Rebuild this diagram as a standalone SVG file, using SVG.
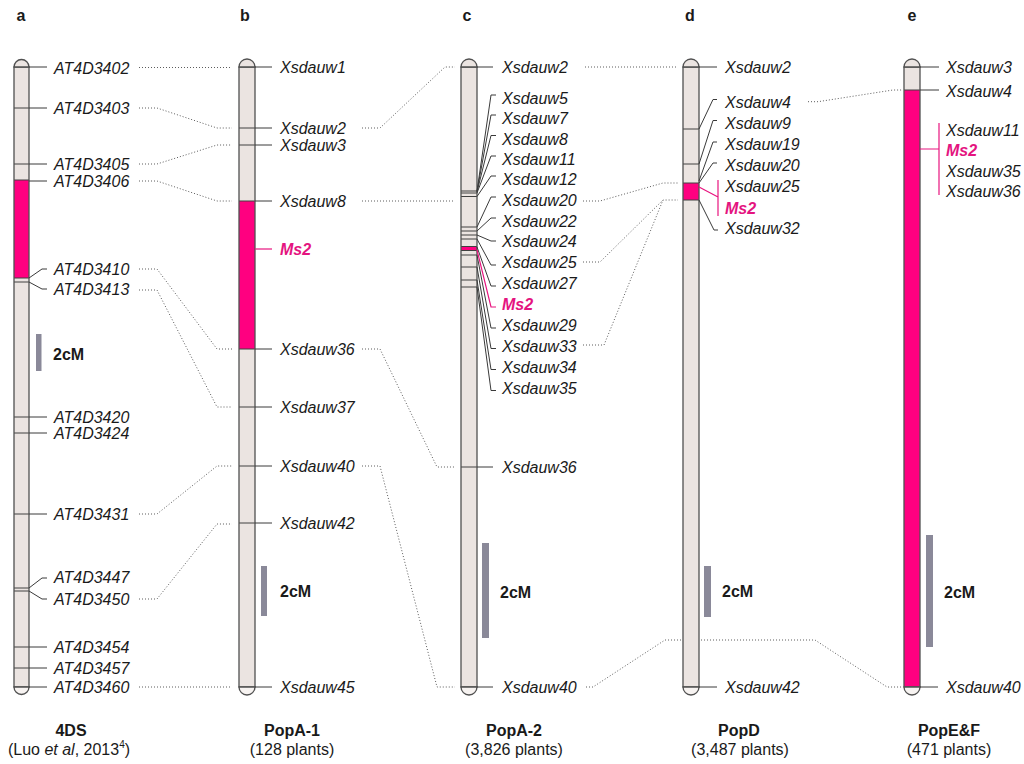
<svg xmlns="http://www.w3.org/2000/svg" width="1024" height="764" viewBox="0 0 1024 764">
<style>
.bg{fill:#ffffff}
.chr{fill:#ebe4e1}
.out{fill:none;stroke:#505050;stroke-width:1.3}
.cap{fill:#ebe4e1;stroke:#505050;stroke-width:1.3}
.capb{fill:#f7f3f1;stroke:#505050;stroke-width:1.3}
.pk{fill:#ff0080}
.bd{stroke:#404040;stroke-width:1;fill:none}
.tk{stroke:#3a3a3a;stroke-width:1;fill:none}
.pt{stroke:#e8157f;stroke-width:1.2;fill:none}
.dot{stroke:#5c5c5c;stroke-width:1;stroke-dasharray:1 2;fill:none}
.lbl{font-family:'Liberation Sans',Arial,sans-serif;font-size:16px;font-style:italic;fill:#1a1a1a}
.ms{font-family:'Liberation Sans',Arial,sans-serif;font-size:16px;font-style:italic;font-weight:bold;fill:#e4147f}
.cm{font-family:'Liberation Sans',Arial,sans-serif;font-size:16px;font-weight:bold;fill:#1a1a1a}
.ttl{font-family:'Liberation Sans',Arial,sans-serif;font-size:16px;font-weight:bold;fill:#1a1a1a;text-anchor:middle}
.sub{font-family:'Liberation Sans',Arial,sans-serif;font-size:16px;fill:#1a1a1a;text-anchor:middle}
.bar{fill:#8a8999}
</style>
<rect class="bg" x="0" y="0" width="1024" height="764"/>

<g id="connectors">
<path class="dot" d="M139,67.5 H232"/>
<path class="dot" d="M139,108 H157 L217,128 H232"/>
<path class="dot" d="M139,164 H157 L217,145 H232"/>
<path class="dot" d="M139,181 H157 L217,201 H232"/>
<path class="dot" d="M139,269 H157 L217,349 H232"/>
<path class="dot" d="M139,290 H157 L217,407 H232"/>
<path class="dot" d="M139,514 H157 L217,466 H232"/>
<path class="dot" d="M139,599 H157 L217,524 H232"/>
<path class="dot" d="M139,687 H232"/>
<path class="dot" d="M362,128 H380 L445,67 H455"/>
<path class="dot" d="M362,201 H455"/>
<path class="dot" d="M362,349 H380 L437,467 H455"/>
<path class="dot" d="M362,466 H380 L437,687 H455"/>
<path class="dot" d="M585,67 H678"/>
<path class="dot" d="M583,201 H600 L663,183 H678"/>
<path class="dot" d="M583,262 H600 L663,200 H678"/>
<path class="dot" d="M583,345 H604 L663,200"/>
<path class="dot" d="M586,687 H593 L665,640 H815 L887,687 H903"/>
<path class="dot" d="M808,101.7 H818 L893,90 H903"/>
</g>

<g id="chrom-a">
<rect class="chr" x="14" y="67" width="15" height="620"/>
<rect class="pk" x="14" y="180" width="15" height="98"/>
<path class="bd" d="M14,108H29M14,164H29M14,180H29M14,278H29M14,282H29M14,417H29M14,433H29M14,514H29M14,588H29M14,591H29M14,647H29M14,668H29"/>
<rect class="out" x="14" y="67" width="15" height="620"/>
<path class="cap" d="M14,67 A7.5,7.5 0 0 1 29,67 Z"/>
<path class="capb" d="M14,687 A7.5,7.5 0 0 0 29,687 Z"/>
<path class="tk" d="M29,67H47M29,108H47M29,164H47M29,181H47M29,278L42,269H47M29,282L42,289H47M29,417H47M29,433H47M29,514H47M29,588L42,578H47M29,591L42,599H47M29,647H47M29,668H47M29,687H47"/>
<text class="lbl" x="54" y="74">AT4D3402</text>
<text class="lbl" x="54" y="114">AT4D3403</text>
<text class="lbl" x="54" y="170">AT4D3405</text>
<text class="lbl" x="54" y="187">AT4D3406</text>
<text class="lbl" x="54" y="275">AT4D3410</text>
<text class="lbl" x="54" y="295">AT4D3413</text>
<text class="lbl" x="54" y="423">AT4D3420</text>
<text class="lbl" x="54" y="439">AT4D3424</text>
<text class="lbl" x="54" y="520">AT4D3431</text>
<text class="lbl" x="54" y="583">AT4D3447</text>
<text class="lbl" x="54" y="605">AT4D3450</text>
<text class="lbl" x="54" y="653">AT4D3454</text>
<text class="lbl" x="54" y="674">AT4D3457</text>
<text class="lbl" x="54" y="693">AT4D3460</text>
<rect class="bar" x="36" y="334" width="5.5" height="37"/>
<text class="cm" x="53" y="360">2cM</text>
</g>

<g id="chrom-b">
<rect class="chr" x="239" y="67" width="16" height="620"/>
<rect class="pk" x="239" y="201" width="16" height="148"/>
<path class="bd" d="M239,128H255M239,145H255M239,201H255M239,349H255M239,407H255M239,466H255M239,523H255"/>
<rect class="out" x="239" y="67" width="16" height="620"/>
<path class="cap" d="M239,67 A8,8 0 0 1 255,67 Z"/>
<path class="capb" d="M239,687 A8,8 0 0 0 255,687 Z"/>
<path class="tk" d="M255,67H272M255,128H272M255,145H272M255,201H272M255,349H272M255,407H272M255,466H272M255,523H272M255,687H272"/>
<path class="pt" d="M255,249H272"/>
<text class="lbl" x="280" y="73">Xsdauw1</text>
<text class="lbl" x="280" y="134">Xsdauw2</text>
<text class="lbl" x="280" y="151">Xsdauw3</text>
<text class="lbl" x="280" y="207">Xsdauw8</text>
<text class="ms" x="280" y="255">Ms2</text>
<text class="lbl" x="280" y="355">Xsdauw36</text>
<text class="lbl" x="280" y="413">Xsdauw37</text>
<text class="lbl" x="280" y="472">Xsdauw40</text>
<text class="lbl" x="280" y="529">Xsdauw42</text>
<text class="lbl" x="280" y="693">Xsdauw45</text>
<rect class="bar" x="261" y="566" width="6" height="50"/>
<text class="cm" x="280" y="597">2cM</text>
</g>

<g id="chrom-c">
<rect class="chr" x="461" y="67" width="16" height="620"/>
<rect class="pk" x="461" y="247" width="16" height="3"/>
<path class="bd" d="M461,191H477M461,193H477M461,196.5H477M461,227H477M461,231H477M461,235H477M461,239H477M461,246.5H477M461,250.5H477M461,255H477M461,267H477M461,280H477M461,287H477M461,467H477"/>
<rect class="out" x="461" y="67" width="16" height="620"/>
<path class="cap" d="M461,67 A8,8 0 0 1 477,67 Z"/>
<path class="capb" d="M461,687 A8,8 0 0 0 477,687 Z"/>
<path class="tk" d="M477,67H493M477,467H493M477,687H493"/>
<path class="tk" d="M477,191L491,95H496M477,191.5L491,115H496M477,192L491,135.5H496M477,193L491,156H496M477,196.5L491,176H496M477,227L491,197H496M477,231L491,218H496M477,235L491,241H496M477,239L491,265H496M477,247L491,286H496M477,255L491,328H496M477,267L491,348.5H496M477,280L491,369.5H496M477,287L491,390.5H496"/>
<path class="pt" d="M477,250L491,307H496"/>
<text class="lbl" x="502" y="73">Xsdauw2</text>
<text class="lbl" x="502" y="104">Xsdauw5</text>
<text class="lbl" x="502" y="124">Xsdauw7</text>
<text class="lbl" x="502" y="144.5">Xsdauw8</text>
<text class="lbl" x="502" y="165">Xsdauw11</text>
<text class="lbl" x="502" y="185">Xsdauw12</text>
<text class="lbl" x="502" y="206">Xsdauw20</text>
<text class="lbl" x="502" y="227">Xsdauw22</text>
<text class="lbl" x="502" y="247">Xsdauw24</text>
<text class="lbl" x="502" y="268">Xsdauw25</text>
<text class="lbl" x="502" y="289">Xsdauw27</text>
<text class="ms" x="502" y="310">Ms2</text>
<text class="lbl" x="502" y="331">Xsdauw29</text>
<text class="lbl" x="502" y="351.5">Xsdauw33</text>
<text class="lbl" x="502" y="372.5">Xsdauw34</text>
<text class="lbl" x="502" y="393.5">Xsdauw35</text>
<text class="lbl" x="502" y="473">Xsdauw36</text>
<text class="lbl" x="502" y="693">Xsdauw40</text>
<rect class="bar" x="482" y="543" width="7" height="95"/>
<text class="cm" x="500" y="598">2cM</text>
</g>

<g id="chrom-d">
<rect class="chr" x="683" y="67" width="16" height="620"/>
<rect class="pk" x="683" y="183" width="16" height="17"/>
<path class="bd" d="M683,129H699M683,164H699M683,183H699M683,200H699"/>
<rect class="out" x="683" y="67" width="16" height="620"/>
<path class="cap" d="M683,67 A8,8 0 0 1 699,67 Z"/>
<path class="capb" d="M683,687 A8,8 0 0 0 699,687 Z"/>
<path class="tk" d="M699,67H717M699,687H717"/>
<path class="tk" d="M699,129L713,99.5H717M699,164L713,120.5H717M699,181L713,142H717M699,183L713,163H717M699,200L714,230H718"/>
<path class="pt" d="M699,187L718,197M718,180V216"/>
<text class="lbl" x="725" y="73">Xsdauw2</text>
<text class="lbl" x="725" y="107.5">Xsdauw4</text>
<text class="lbl" x="725" y="128.5">Xsdauw9</text>
<text class="lbl" x="725" y="150">Xsdauw19</text>
<text class="lbl" x="725" y="171">Xsdauw20</text>
<text class="lbl" x="725" y="191.5">Xsdauw25</text>
<text class="ms" x="725" y="213.5">Ms2</text>
<text class="lbl" x="725" y="234">Xsdauw32</text>
<text class="lbl" x="725" y="693">Xsdauw42</text>
<rect class="bar" x="704" y="566" width="7" height="51"/>
<text class="cm" x="722" y="597">2cM</text>
</g>

<g id="chrom-e">
<rect class="chr" x="904" y="67" width="16" height="620"/>
<rect class="pk" x="904" y="90" width="16" height="597"/>
<path class="bd" d="M904,90H920"/>
<rect class="out" x="904" y="67" width="16" height="620"/>
<path class="cap" d="M904,67 A8,8 0 0 1 920,67 Z"/>
<path class="capb" d="M904,687 A8,8 0 0 0 920,687 Z"/>
<path class="tk" d="M920,67H939M920,90H939M920,687H938"/>
<path class="pt" d="M920,149H939M939,123V195"/>
<text class="lbl" x="946" y="73">Xsdauw3</text>
<text class="lbl" x="946" y="96.5">Xsdauw4</text>
<text class="lbl" x="946" y="135.5">Xsdauw11</text>
<text class="ms" x="946" y="155.5">Ms2</text>
<text class="lbl" x="946" y="177">Xsdauw35</text>
<text class="lbl" x="946" y="196.5">Xsdauw36</text>
<text class="lbl" x="946" y="693">Xsdauw40</text>
<rect class="bar" x="926" y="535" width="7" height="112"/>
<text class="cm" x="944" y="598">2cM</text>
</g>

<g id="panel-letters">
<text class="ttl" x="21" y="21">a</text>
<text class="ttl" x="245" y="21">b</text>
<text class="ttl" x="467" y="21">c</text>
<text class="ttl" x="690" y="21">d</text>
<text class="ttl" x="912" y="21">e</text>
</g>

<g id="titles">
<text class="ttl" x="71" y="736">4DS</text>
<text class="sub" x="69" y="755">(Luo <tspan font-style="italic">et al</tspan>, 2013<tspan dy="-7" font-size="10">4</tspan><tspan dy="7">)</tspan></text>
<text class="ttl" x="292" y="736">PopA-1</text>
<text class="sub" x="292" y="755">(128 plants)</text>
<text class="ttl" x="514" y="736">PopA-2</text>
<text class="sub" x="514" y="755">(3,826 plants)</text>
<text class="ttl" x="739" y="736">PopD</text>
<text class="sub" x="740" y="755">(3,487 plants)</text>
<text class="ttl" x="949" y="736">PopE&amp;F</text>
<text class="sub" x="949" y="755">(471 plants)</text>
</g>
</svg>
